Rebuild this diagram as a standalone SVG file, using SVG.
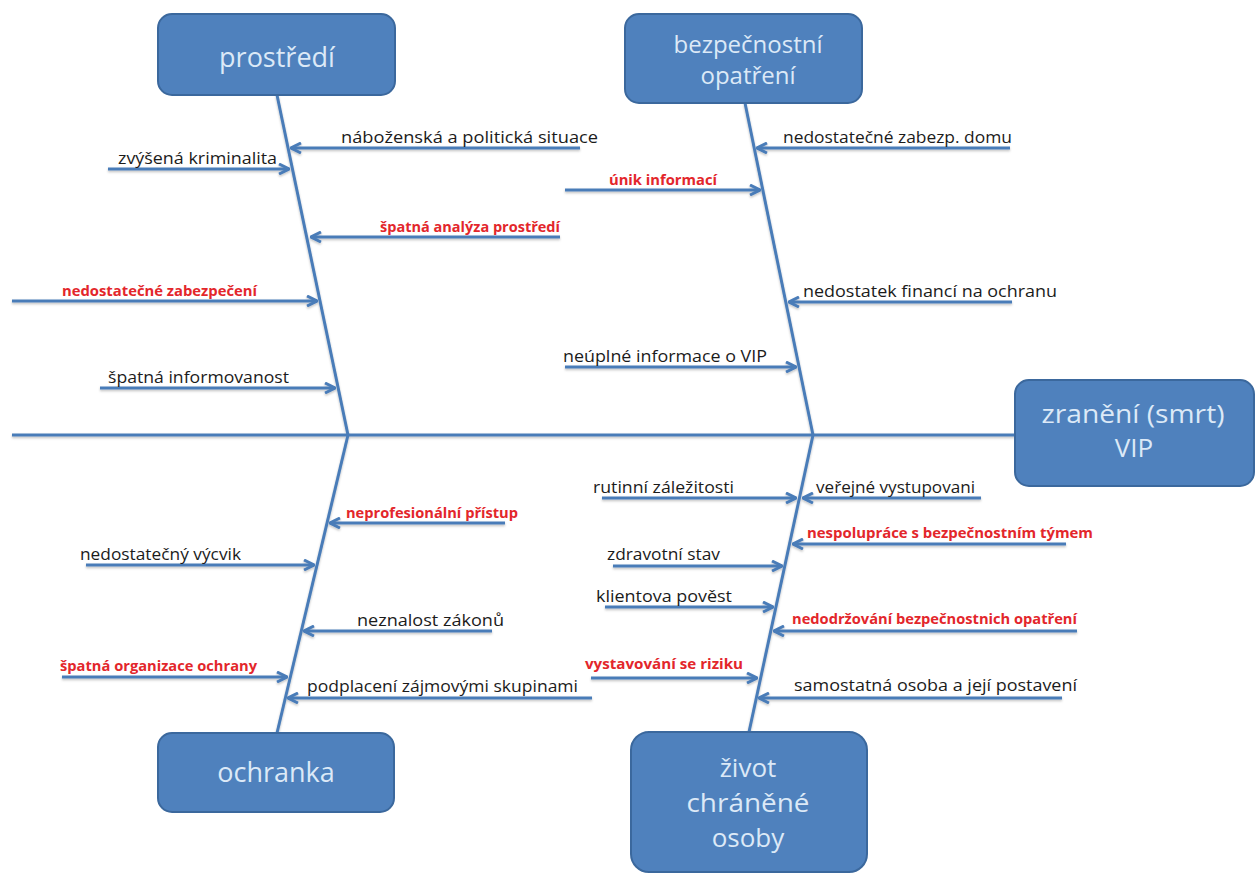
<svg xmlns="http://www.w3.org/2000/svg" width="1259" height="875" viewBox="0 0 1259 875">
<style>
.box{fill:#4f81bd;stroke:#3b689d;stroke-width:2}
.bt{font-family:"Open Sans","DejaVu Sans",sans-serif;fill:#dce9f7;text-anchor:middle}
.lbl{font-family:"Open Sans","DejaVu Sans",sans-serif;font-size:17px;fill:#1b1b1b}
.red{font-family:"Open Sans","DejaVu Sans",sans-serif;font-size:14px;font-weight:bold;fill:#e3262b}
.ln{stroke:#4a7cb8;stroke-width:3;fill:none}
.arr{marker-end:url(#ah)}
</style>
<defs>
<marker id="ah" viewBox="0 0 12 12" refX="11" refY="6" markerWidth="12" markerHeight="12" orient="auto" markerUnits="userSpaceOnUse">
<path d="M1,1 L11,6 L1,11" fill="none" stroke="#4a7cb8" stroke-width="3"/>
</marker>
<filter id="sh" x="-5%" y="-50%" width="110%" height="200%">
<feDropShadow dx="0" dy="1.5" stdDeviation="1" flood-color="#000" flood-opacity="0.25"/>
</filter>
</defs>
<rect width="1259" height="875" fill="#fff"/>
<g id="connectors" filter="url(#sh)">
<path class="ln" stroke-width="4" d="M12,435 L1015,435"/>
<path class="ln" d="M277,95 L348,435"/>
<path class="ln" d="M745,103 L813,435"/>
<path class="ln" d="M348,435 L277,733"/>
<path class="ln" d="M813,435 L749,732"/>
<path class="ln arr" d="M580,148 L291,148"/>
<path class="ln arr" d="M108,169 L289,169"/>
<path class="ln arr" d="M560,237 L311,237"/>
<path class="ln arr" d="M12,301 L317,301"/>
<path class="ln arr" d="M100,388 L335,388"/>
<path class="ln arr" d="M1010,148 L757,148"/>
<path class="ln arr" d="M565,190 L760,190"/>
<path class="ln arr" d="M1012,302 L789,302"/>
<path class="ln arr" d="M565,367 L796,367"/>
<path class="ln arr" d="M505,523 L330,523"/>
<path class="ln arr" d="M86,565 L314,565"/>
<path class="ln arr" d="M492,631 L304,631"/>
<path class="ln arr" d="M62,677 L287,677"/>
<path class="ln arr" d="M592,698 L288,698"/>
<path class="ln arr" d="M602,498 L796,498"/>
<path class="ln arr" d="M981,498 L803,498"/>
<path class="ln arr" d="M1066,544 L793,544"/>
<path class="ln arr" d="M613,566 L782,566"/>
<path class="ln arr" d="M605,607 L773,607"/>
<path class="ln arr" d="M1077,631 L774,631"/>
<path class="ln arr" d="M591,678 L757,678"/>
<path class="ln arr" d="M1062,698 L759,698"/>
</g>
<g id="prostredi">
<rect class="box" x="158" y="14" width="237" height="81" rx="14"/>
<text class="bt" x="277" y="67" font-size="27">prostředí</text>
</g>
<g id="bezpecnostni-opatreni">
<rect class="box" x="625" y="14" width="237" height="89" rx="14"/>
<text class="bt" x="748" y="53" font-size="24">bezpečnostní</text>
<text class="bt" x="748" y="84" font-size="24">opatření</text>
</g>
<g id="zraneni-vip">
<rect class="box" x="1015" y="380" width="239" height="106" rx="14"/>
<text class="bt" x="1133" y="423" font-size="26" textLength="183" lengthAdjust="spacingAndGlyphs">zranění (smrt)</text>
<text class="bt" x="1134" y="457" font-size="26">VIP</text>
</g>
<g id="ochranka">
<rect class="box" x="158" y="733" width="236" height="79" rx="14"/>
<text class="bt" x="276" y="782" font-size="27">ochranka</text>
</g>
<g id="zivot-chranene-osoby">
<rect class="box" x="631" y="732" width="236" height="140" rx="18"/>
<text class="bt" x="748" y="777" font-size="26">život</text>
<text class="bt" x="748" y="812" font-size="26" textLength="123" lengthAdjust="spacingAndGlyphs">chráněné</text>
<text class="bt" x="748" y="847" font-size="26">osoby</text>
</g>
<g id="labels-prostredi">
<text class="lbl" x="341" y="143" textLength="257" lengthAdjust="spacingAndGlyphs">náboženská a politická situace</text>
<text class="lbl" x="118" y="164" textLength="159" lengthAdjust="spacingAndGlyphs">zvýšená kriminalita</text>
<text class="red" x="380" y="232" textLength="180" lengthAdjust="spacingAndGlyphs">špatná analýza prostředí</text>
<text class="red" x="62" y="296" textLength="195" lengthAdjust="spacingAndGlyphs">nedostatečné zabezpečení</text>
<text class="lbl" x="108" y="383" textLength="181" lengthAdjust="spacingAndGlyphs">špatná informovanost</text>
</g>
<g id="labels-bezpecnostni">
<text class="lbl" x="783" y="143" textLength="229" lengthAdjust="spacingAndGlyphs">nedostatečné zabezp. domu</text>
<text class="red" x="609" y="185" textLength="108" lengthAdjust="spacingAndGlyphs">únik informací</text>
<text class="lbl" x="803" y="297" textLength="254" lengthAdjust="spacingAndGlyphs">nedostatek financí na ochranu</text>
<text class="lbl" x="563" y="362" textLength="204" lengthAdjust="spacingAndGlyphs">neúplné informace o VIP</text>
</g>
<g id="labels-ochranka">
<text class="red" x="346" y="518" textLength="172" lengthAdjust="spacingAndGlyphs">neprofesionální přístup</text>
<text class="lbl" x="80" y="560" textLength="161" lengthAdjust="spacingAndGlyphs">nedostatečný výcvik</text>
<text class="lbl" x="357" y="626" textLength="147" lengthAdjust="spacingAndGlyphs">neznalost zákonů</text>
<text class="red" x="60" y="671" textLength="197" lengthAdjust="spacingAndGlyphs">špatná organizace ochrany</text>
<text class="lbl" x="307" y="692" textLength="271" lengthAdjust="spacingAndGlyphs">podplacení zájmovými skupinami</text>
</g>
<g id="labels-zivot">
<text class="lbl" x="593" y="493" textLength="141" lengthAdjust="spacingAndGlyphs">rutinní záležitosti</text>
<text class="lbl" x="816" y="493" textLength="159" lengthAdjust="spacingAndGlyphs">veřejné vystupovani</text>
<text class="red" x="807" y="538" textLength="286" lengthAdjust="spacingAndGlyphs">nespolupráce s bezpečnostním týmem</text>
<text class="lbl" x="607" y="560" textLength="113" lengthAdjust="spacingAndGlyphs">zdravotní stav</text>
<text class="lbl" x="596" y="602" textLength="136" lengthAdjust="spacingAndGlyphs">klientova pověst</text>
<text class="red" x="792" y="624" textLength="285" lengthAdjust="spacingAndGlyphs">nedodržování bezpečnostnich opatření</text>
<text class="red" x="585" y="669" textLength="158" lengthAdjust="spacingAndGlyphs">vystavování se riziku</text>
<text class="lbl" x="794" y="691" textLength="283" lengthAdjust="spacingAndGlyphs">samostatná osoba a její postavení</text>
</g>
</svg>
